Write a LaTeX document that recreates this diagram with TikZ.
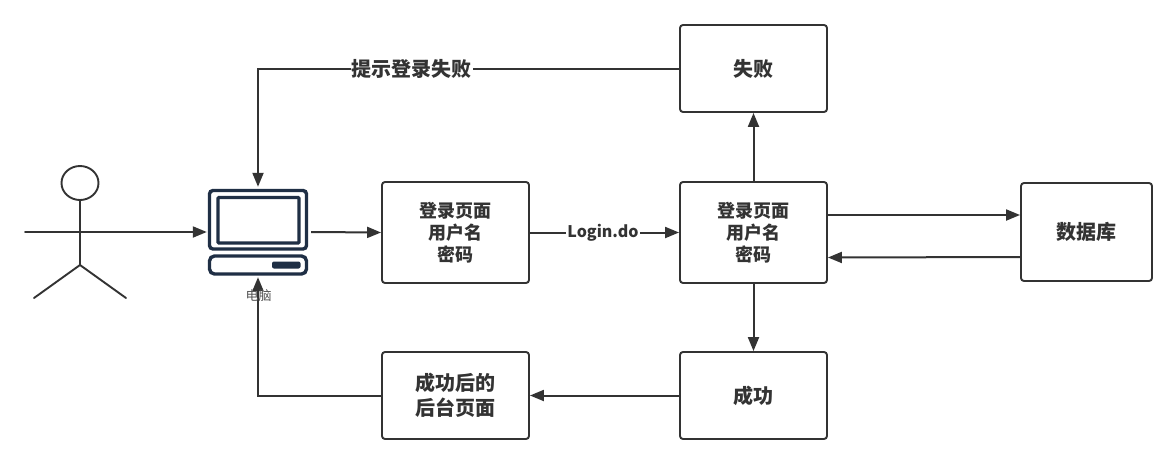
\documentclass[tikz,border=0pt]{standalone}
\usepackage{fontspec}
\setmainfont{Noto Sans CJK SC}
\usetikzlibrary{arrows.meta,calc}
\definecolor{ink}{HTML}{333333}
\definecolor{navy}{HTML}{1F2F45}
\tikzset{
  x=1pt,y=-1pt,
  boxn/.style={draw=ink,line width=1.9pt,rounded corners=3pt,fill=white,align=center,text=ink,font=\fontsize{18}{22}\selectfont\bfseries,inner sep=0pt},
  bigtext/.style={font=\fontsize{20}{26}\selectfont\bfseries},
  conn/.style={draw=ink,line width=2pt,-{Triangle[length=14pt,width=11pt]}},
  stick/.style={draw=ink,line width=1.9pt,line cap=round},
  pcpart/.style={draw=navy,line width=3.4pt,rounded corners=3.5pt,fill=white},
  lab/.style={fill=white,text=ink,inner sep=1pt,font=\fontsize{20}{22}\selectfont\bfseries}
}
\begin{document}
\begin{tikzpicture}
\useasboundingbox (0,0) rectangle (1176,464);
\fill[white] (0,0) rectangle (1176,464);
% boxes
\node[boxn,bigtext,minimum width=147pt,minimum height=87pt] (fail) at (753.5,68.5) {失败};
\node[boxn,minimum width=147pt,minimum height=101pt] (login1) at (455.5,232.5) {登录页面\\用户名\\密码};
\node[boxn,minimum width=147pt,minimum height=101pt] (login2) at (753.5,232.5) {登录页面\\用户名\\密码};
\node[boxn,bigtext,minimum width=131pt,minimum height=98pt] (db) at (1086.5,232) {数据库};
\node[boxn,bigtext,minimum width=147pt,minimum height=87pt] (ok) at (753.5,395.5) {成功};
\node[boxn,minimum width=147pt,minimum height=87pt,font=\fontsize{20}{25}\selectfont\bfseries] (after) at (455.5,395.5) {成功后的\\后台页面};
% stick figure
\draw[stick] (80,183) ellipse [x radius=18.5,y radius=17];
\draw[stick] (80,200) -- (80,265);
\draw[stick] (25,232) -- (135,232);
\draw[stick] (34,298) -- (80,265) -- (126,298);
\coordinate (hand) at (135,232);
% computer
\node[minimum width=100pt,minimum height=86pt,inner sep=0pt] (pc) at (258,232) {};
\draw[pcpart] (209.5,190.5) rectangle (306.5,249);
\draw[pcpart,rounded corners=1pt] (218,197.5) rectangle (299,243);
\draw[pcpart,rounded corners=5pt] (209.5,256) rectangle (306.5,274);
\fill[navy,rounded corners=2pt] (272,261.5) rectangle (300.5,268.5);
% connectors
\draw[conn] (hand) -- ([xshift=-1pt]pc.west);
\draw[conn] ([xshift=3pt]pc.east) -- (login1.west);
\draw[conn] (login1.east) -- node[lab,pos=.49,font=\fontsize{16}{18}\selectfont\bfseries] {Login.do} (login2.west);
\draw[conn] (login2.north) -- (fail.south);
\draw[conn] (login2.south) -- (ok.north);
\draw[conn] ([yshift=17.5pt]login2.east) -- ([yshift=17pt]db.west);
\draw[conn] ([yshift=-25pt]db.west) -- ([yshift=-25pt]login2.east);
\draw[conn] (ok.west) -- (after.east);
\draw[conn] (fail.west) -- node[lab,pos=.635] {提示登录失败} (pc.north |- fail.west) -- ([yshift=2pt]pc.north);
\draw[conn] (after.west) -- (pc.south |- after.west) -- ([yshift=-2pt]pc.south);
\node[text=ink!85,inner sep=0pt,font=\fontsize{13}{14}\selectfont] (pclabel) at (258.5,296) {电脑};
\end{tikzpicture}
\end{document}
